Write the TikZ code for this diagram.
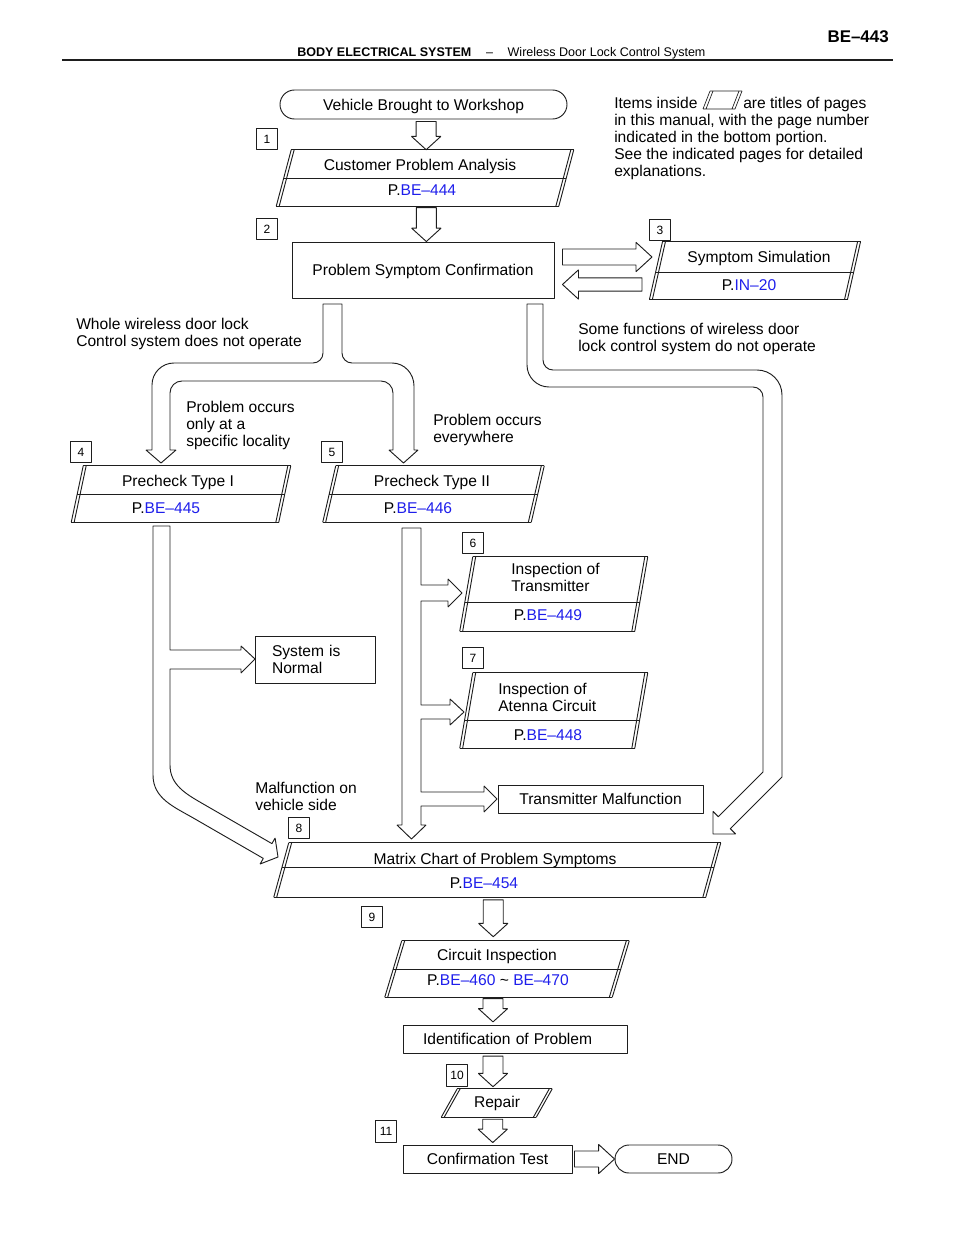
\documentclass[tikz,border=0pt]{standalone}
\usepackage{fontspec}
\setmainfont{Liberation Sans}
\usetikzlibrary{calc,positioning,shapes.misc}
\definecolor{refblue}{RGB}{30,30,235}
\definecolor{inkcol}{RGB}{30,30,30}
\newcommand\refpage[1]{\textcolor{refblue}{#1}}
\tikzset{
  boxline/.style={draw=inkcol, line width=0.7pt},
  blk/.style={draw=inkcol, line width=0.7pt},
  field/.style={draw=inkcol, line width=0.7pt, inner sep=0pt},
  txt/.style={inner sep=0pt, text height=8.4pt, text depth=0pt},
  para/.style={inner sep=0pt, align=left, anchor=base west},
  numbox/.style={draw=inkcol, line width=0.6pt, minimum size=16pt, inner sep=0pt,
    font=\fontsize{9}{10}\selectfont},
  pagefield/.style={inner sep=0pt},
}
% page box: name, centre, width, height, slant (all in px)
\newcommand\pagebox[5]{%
  \node[pagefield, minimum width=#3*0.75pt, minimum height=#4*0.75pt] (#1) at (#2) {};
  \coordinate (#1-tl) at ([xshift=#5*0.375pt]#1.north west);
  \coordinate (#1-tr) at ([xshift=#5*0.375pt]#1.north east);
  \coordinate (#1-bl) at ([xshift=-#5*0.375pt]#1.south west);
  \coordinate (#1-br) at ([xshift=-#5*0.375pt]#1.south east);
  \draw[boxline] (#1-tl) -- (#1-tr) (#1-bl) -- (#1-br);
  \draw[boxline] (#1-tl) -- (#1-bl) ([xshift=2.2pt]#1-tl) -- ([xshift=2.2pt]#1-bl);
  \draw[boxline] (#1-tr) -- (#1-br) ([xshift=-2.2pt]#1-tr) -- ([xshift=-2.2pt]#1-br);}
\newcommand\pagerule[2]{%
  \draw[boxline] ($(#1-tl)!#2!(#1-bl)$) -- ($(#1-tr)!#2!(#1-br)$);}
% hollow block arrows
\newcommand\blockdown[2]{%
  \draw[blk] let \p1=#1, \p2=#2 in
    (\x1-7.5pt,\y1) -- (\x1-7.5pt,\y2+10pt) -- (\x1-11pt,\y2+10pt) -- (\x1,\y2)
    -- (\x1+11pt,\y2+10pt) -- (\x1+7.5pt,\y2+10pt) -- (\x1+7.5pt,\y1) -- cycle;}
\newcommand\blockright[2]{%
  \draw[blk] let \p1=#1, \p2=#2 in
    (\x1,\y1+6pt) -- (\x2-12pt,\y1+6pt) -- (\x2-12pt,\y1+11pt) -- (\x2,\y1)
    -- (\x2-12pt,\y1-11pt) -- (\x2-12pt,\y1-6pt) -- (\x1,\y1-6pt) -- cycle;}
\newcommand\blockleft[2]{%
  \draw[blk] let \p1=#1, \p2=#2 in
    (\x1,\y1+5pt) -- (\x2+12pt,\y1+5pt) -- (\x2+12pt,\y1+11pt) -- (\x2,\y1)
    -- (\x2+12pt,\y1-11pt) -- (\x2+12pt,\y1-5pt) -- (\x1,\y1-5pt) -- cycle;}
\begin{document}
\begin{tikzpicture}[>=latex,line join=bevel,x=0.75pt,y=-0.75pt,
  every node/.style={font=\fontsize{11.7}{12.75}\selectfont}]
\useasboundingbox (0,0) rectangle (960,1242);
%% header
  \node[anchor=base east, inner sep=0pt, font=\fontsize{12.7}{14}\selectfont\bfseries] (pageno) at (889,42) {BE–443};
  \node[anchor=base west, inner sep=0pt, font=\fontsize{9.4}{11}\selectfont] (running) at (297,56.5)
    {\textbf{BODY ELECTRICAL SYSTEM}\hspace{11pt}–\hspace{11pt}Wireless Door Lock Control System};
  \draw[inkcol, line width=1.2pt] (62,60) -- (893,60);
%% note
  \node[para] (note1) at (614,108.6) {Items inside};
  \draw[boxline, line width=0.5pt] (710,91) -- (742,91) (703,109) -- (735,109)
    (710,91) -- (703,109) (713,91) -- (706,109) (742,91) -- (735,109) (739,91) -- (732,109);
  \node[para] (note2) at (743,108.6) {are titles of pages};
  \node[para] (note3) at (614,176.6) {in this manual, with the page number\\indicated in the bottom portion.\\See the indicated pages for detailed\\explanations.};
%% Node: vbw
  \node[field, txt, rounded rectangle, minimum width=215.25pt, minimum height=21.75pt] (vbw) at (423.5,104.5) {Vehicle Brought to Workshop};
%% Node: cpa
  \node[numbox] (n1) at (267,139) {1};
  \pagebox{cpa}{425,178}{282}{56}{15}
  \pagerule{cpa}{0.5}
  \node[txt] (cpa-t) at (420,165) {Customer Problem Analysis};
  \node[txt] (cpa-r) at (422,190) {P.\refpage{BE–444}};
%% Node: psc
  \node[numbox] (n2) at (267,229) {2};
  \node[field, txt, minimum width=196.5pt, minimum height=42pt] (psc) at (423,270) {Problem Symptom Confirmation};
%% Node: ss
  \node[numbox] (n3) at (660,230) {3};
  \pagebox{ss}{755,270.5}{197.5}{57}{13}
  \pagerule{ss}{0.53}
  \node[txt] (ss-t) at (759,257) {Symptom Simulation};
  \node[txt] (ss-r) at (749,285) {P.\refpage{IN–20}};
%% branch texts
  \node[para] (whole) at (76,346.6) {Whole wireless door lock\\Control system does not operate};
  \node[para] (some) at (578,351.6) {Some functions of wireless door\\lock control system do not operate};
  \node[para] (local) at (186,446.6) {Problem occurs\\only at a\\specific locality};
  \node[para] (every) at (433,442.6) {Problem occurs\\everywhere};
%% Node: pc1
  \node[numbox] (n4) at (81,452) {4};
  \pagebox{pc1}{181,494}{207}{56}{12}
  \pagerule{pc1}{0.5}
  \node[txt] (pc1-t) at (178,481) {Precheck Type I};
  \node[txt] (pc1-r) at (166,508) {P.\refpage{BE–445}};
%% Node: pc2
  \node[numbox] (n5) at (332,452) {5};
  \pagebox{pc2}{433.5,494}{208}{56}{13}
  \pagerule{pc2}{0.5}
  \node[txt] (pc2-t) at (432,481) {Precheck Type II};
  \node[txt] (pc2-r) at (418,508) {P.\refpage{BE–446}};
%% Node: it
  \node[numbox] (n6) at (473,543) {6};
  \pagebox{it}{553.75,594}{174.5}{74}{13}
  \pagerule{it}{0.62}
  \node[para] (it-t) at (511,591.6) {Inspection of\\Transmitter};
  \node[txt] (it-r) at (548,615) {P.\refpage{BE–449}};
%% Node: ia
  \node[numbox] (n7) at (473,658) {7};
  \pagebox{ia}{553.75,710.5}{174.5}{75}{13}
  \pagerule{ia}{0.63}
  \node[para] (ia-t) at (498,711.6) {Inspection of\\Atenna Circuit};
  \node[txt] (ia-r) at (548,735) {P.\refpage{BE–448}};
%% Node: sn
  \node[field, inner xsep=12.75pt, inner ysep=0pt, minimum width=90pt, minimum height=35.25pt,
    text width=64.5pt, align=left] (sn) at (315,659.5) {System is\\Normal};
%% Node: tm
  \node[field, txt, minimum width=153.75pt, minimum height=21pt] (tm) at (600.5,799) {Transmitter Malfunction};
  \node[para] (malf) at (255,810.6) {Malfunction on\\vehicle side};
%% Node: mc
  \node[numbox] (n8) at (299,828) {8};
  \pagebox{mc}{497.25,870}{431.5}{54}{15}
  \pagerule{mc}{0.46}
  \node[txt] (mc-t) at (495,859) {Matrix Chart of Problem Symptoms};
  \node[txt] (mc-r) at (484,883) {P.\refpage{BE–454}};
%% Node: ci
  \node[numbox] (n9) at (372,917) {9};
  \pagebox{ci}{507,969}{227}{56}{17}
  \pagerule{ci}{0.5}
  \node[txt] (ci-t) at (497,955) {Circuit Inspection};
  \node[txt] (ci-r) at (498,980) {P.\refpage{BE–460} \textasciitilde{} \refpage{BE–470}};
%% Node: idp
  \node[field, txt, minimum width=168pt, minimum height=21pt, text width=138pt, align=left] (idp) at (515,1039) {Identification of Problem};
%% Node: rp
  \node[numbox] (n10) at (457,1075.5) {10};
  \pagebox{rp}{496.75,1103}{94.5}{28}{16}
  \node[txt] (rp-t) at (497,1102) {Repair};
%% Node: ct
  \node[numbox] (n11) at (386,1131.5) {11};
  \node[field, txt, minimum width=126.75pt, minimum height=21pt] (ct) at (487.5,1159) {Confirmation Test};
  \node[field, txt, rounded rectangle, minimum width=87.75pt, minimum height=21pt] (endn) at (673.5,1159) {END};
%% Edge: straight block arrows
  \blockdown{([xshift=2pt,yshift=-1.5pt]vbw.south)}{(cpa.north)}
  \blockdown{([xshift=1pt,yshift=-1pt]cpa.south)}{(psc.north)}
  \blockright{([xshift=6pt,yshift=9.75pt]psc.east)}{([xshift=-3pt,yshift=9.75pt]ss.west)}
  \blockleft{([xshift=-10.5pt,yshift=-10.5pt]ss.west)}{([xshift=6pt,yshift=-10.5pt]psc.east)}
  \blockdown{([xshift=-3pt,yshift=-2pt]mc.south)}{([yshift=3pt]ci.north)}
  \blockdown{([xshift=-10.5pt,yshift=-1pt]ci.south)}{([yshift=2pt]idp.north)}
  \blockdown{([xshift=-16.5pt,yshift=-2pt]idp.south)}{([yshift=1.5pt]rp.north)}
  \blockdown{([xshift=-3pt,yshift=-1.5pt]rp.south)}{([yshift=1.5pt]ct.north)}
  \blockright{([xshift=1.5pt]ct.east)}{(endn.west)}
%% Edge: psc -> pc1, pc2
  \draw[blk] (323,304) -- (323,353) to[out=-90,in=0] (313,363) -- (174,363) to[out=180,in=90] (152,385)
    -- (152,450) -- (146,450) -- (161,463) -- (176,450) -- (170,450) -- (170,393) to[out=90,in=180] (182,381)
    -- (381,381) to[out=0,in=90] (393,393) -- (393,450) -- (389,450) -- (403.5,463) -- (418,450) -- (414,450)
    -- (414,386) to[out=90,in=0] (392,363) -- (352,363) to[out=180,in=-90] (342,353) -- (342,304) -- cycle;
%% Edge: psc -> mc
  \draw[blk] (527,304) -- (527,365) to[out=-90,in=180] (549,387) -- (753,387) to[out=0,in=90] (763,397)
    -- (763,772) -- (718.3,816.7) -- (713,811.4) -- (713,834) -- (735.6,834) -- (730.3,828.7)
    -- (782,777) -- (782,395) to[out=90,in=0] (757,370) -- (553,370) to[out=180,in=-90] (543,360)
    -- (543,304) -- cycle;
%% Edge: pc1 -> sn, mc
  \draw[blk] (153,526) -- (170,526) -- (170,650) -- (241,650) -- (241,646) -- (255,659) -- (241,673)
    -- (241,669) -- (170,669) -- (170,765) to[out=-90,in=150] (202.6,803.6) -- (271.9,843.6)
    -- (275.1,838) -- (278,857) -- (260.1,864) -- (263.3,858.4) -- (194,818.4)
    to[out=150,in=-90] (153,775) -- cycle;
%% Edge: pc2 -> it, ia, tm, mc
  \draw[blk] (402,528) -- (421,528) -- (421,585) -- (448,585) -- (448,579) -- (462,593) -- (448,607)
    -- (448,601) -- (421,601) -- (421,705) -- (450,705) -- (450,699) -- (464,712) -- (450,725)
    -- (450,719) -- (421,719) -- (421,792) -- (484,792) -- (484,786) -- (497,799) -- (484,812)
    -- (484,806) -- (421,806) -- (421,825) -- (426,825) -- (411.5,839) -- (397,825) -- (402,825) -- cycle;
\end{tikzpicture}
\end{document}
